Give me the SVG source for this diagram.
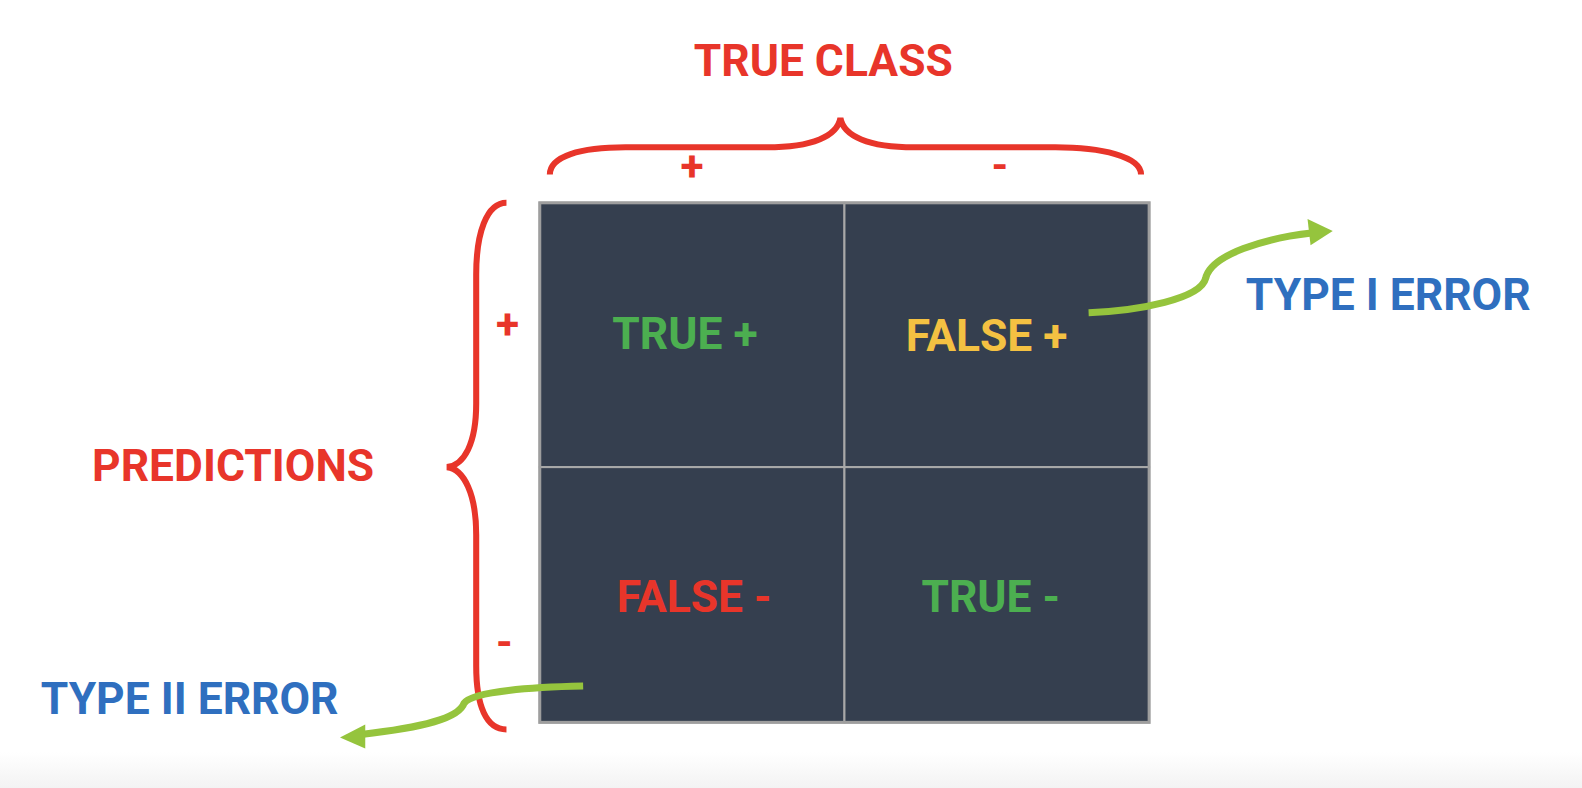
<svg xmlns="http://www.w3.org/2000/svg" width="1582" height="788" viewBox="0 0 1582 788">
<defs>
<linearGradient id="bg" x1="0" y1="0" x2="0" y2="1">
<stop offset="0" stop-color="#ffffff"/>
<stop offset="1" stop-color="#f3f3f3"/>
</linearGradient>
</defs>
<style>
text{font-family:Roboto,"Liberation Sans",sans-serif;font-weight:bold;}
.big{font-size:44px;}
.sign{font-size:42px;fill:#e8352a;text-anchor:middle;}
.red{fill:#e8352a;}
.blue{fill:#2f6fbf;}
.green{fill:#4caf50;}
.yellow{fill:#f4c142;}
.brace{fill:none;stroke:#e8352a;stroke-width:6;stroke-linecap:butt;}
.arrow{fill:none;stroke:#95c43d;stroke-width:7;}
.head{fill:#95c43d;}
.cell{fill:#353f4f;stroke:#a8a8a8;stroke-width:2;}
</style>
<rect x="0" y="0" width="1582" height="788" fill="#ffffff"/>
<rect x="0" y="752" width="1582" height="36" fill="url(#bg)"/>
<g transform="scale(1.0089)">
<g id="title">
<text class="big red" x="816" y="75" text-anchor="middle">TRUE CLASS</text>
</g>
<g id="top-brace">
<path class="brace" d="M545,173 C545,155 575,146 620,146 L760,146 C805,146 830,135 833,117 C836,135 861,146 906,146 L1046,146 C1091,146 1131,155 1131,173"/>
<text class="sign" x="686" y="179">+</text>
<text class="sign" x="991" y="178">-</text>
</g>
<g id="predictions">
<text class="big red" x="231" y="477" text-anchor="middle">PREDICTIONS</text>
</g>
<g id="left-brace">
<path class="brace" d="M502,201 C482,201 472,232 472,272 L472,400 C472,440 460,461 443,463 C460,465 472,490 472,530 L472,660 C472,700 482,723 502,723"/>
<text class="sign" x="503" y="336">+</text>
<text class="sign" x="500" y="651">-</text>
</g>
<g id="matrix">
<rect class="cell" x="535" y="201" width="302" height="262"/>
<rect class="cell" x="837" y="201" width="302" height="262"/>
<rect class="cell" x="535" y="463" width="302" height="253"/>
<rect class="cell" x="837" y="463" width="302" height="253"/>
<rect x="535" y="201" width="604" height="515" fill="none" stroke="#9e9e9e" stroke-width="3"/>
</g>
<g id="true-pos"><text class="big green" x="679" y="346" text-anchor="middle">TRUE +</text></g>
<g id="false-pos"><text class="big yellow" x="978" y="348" text-anchor="middle">FALSE +</text></g>
<g id="false-neg"><text class="big red" x="688" y="607" text-anchor="middle">FALSE -</text></g>
<g id="true-neg"><text class="big green" x="982" y="607" text-anchor="middle">TRUE -</text></g>
<g id="type1"><text class="big blue" x="1376" y="307" text-anchor="middle">TYPE I ERROR</text></g>
<g id="type2"><text class="big blue" x="188" y="708" text-anchor="middle">TYPE II ERROR</text></g>
<g id="connectors">
<path class="arrow" d="M1079,310 C1130,308 1190,296 1195,276 C1200,252 1255,236 1300,231"/>
<polygon class="head" points="1321,229 1296,217 1299,243"/>
<path class="arrow" d="M578,680 C530,681 468,685 460,697 C455,712 420,721 358,728"/>
<polygon class="head" points="337,731 362,718 362,742"/>
</g>
</g>
</svg>
